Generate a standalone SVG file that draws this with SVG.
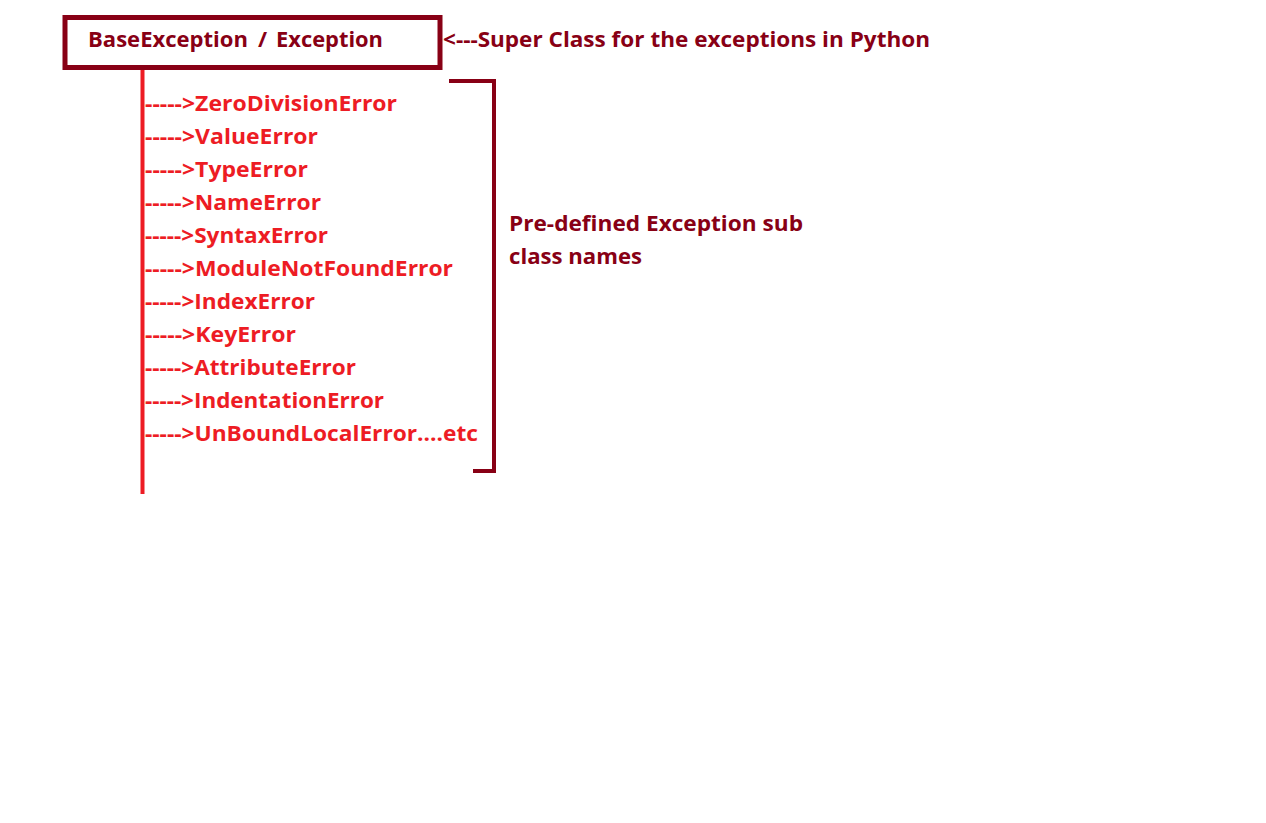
<svg xmlns="http://www.w3.org/2000/svg" width="1266" height="823" viewBox="0 0 1266 823">
<style>
.dk{fill:#880015;font-family:"Open Sans","Liberation Sans",sans-serif;font-weight:700;font-size:22px}
.rd{fill:#ED1C24;font-family:"Open Sans","Liberation Sans",sans-serif;font-weight:700;font-size:22px}
.dline{stroke:#880015;stroke-width:4;fill:none}
.rline{stroke:#ED1C24;stroke-width:4;fill:none}
</style>
<rect width="1266" height="823" fill="#ffffff"/>
<g id="connectors">
<line class="rline" x1="142.5" y1="68" x2="142.5" y2="494"/>
<path class="dline" d="M449 81 H494 V471 H473"/>
</g>
<g id="base">
<rect x="65" y="17.5" width="375" height="50" fill="none" stroke="#880015" stroke-width="5"/>
<text class="dk" y="47"><tspan x="88" textLength="160" lengthAdjust="spacingAndGlyphs">BaseException</tspan><tspan x="258">/</tspan><tspan x="276" textLength="107" lengthAdjust="spacingAndGlyphs">Exception</tspan></text>
</g>
<g id="super-label">
<text class="dk" x="443" y="47" textLength="487" lengthAdjust="spacingAndGlyphs">&lt;---Super Class for the exceptions in Python</text>
</g>
<g id="subclasses">
<text class="rd" x="145" y="111" textLength="252" lengthAdjust="spacingAndGlyphs">-----&gt;ZeroDivisionError</text>
<text class="rd" x="145" y="144" textLength="173" lengthAdjust="spacingAndGlyphs">-----&gt;ValueError</text>
<text class="rd" x="145" y="177" textLength="163" lengthAdjust="spacingAndGlyphs">-----&gt;TypeError</text>
<text class="rd" x="145" y="210" textLength="176" lengthAdjust="spacingAndGlyphs">-----&gt;NameError</text>
<text class="rd" x="145" y="243" textLength="183" lengthAdjust="spacingAndGlyphs">-----&gt;SyntaxError</text>
<text class="rd" x="145" y="276" textLength="308" lengthAdjust="spacingAndGlyphs">-----&gt;ModuleNotFoundError</text>
<text class="rd" x="145" y="309" textLength="170" lengthAdjust="spacingAndGlyphs">-----&gt;IndexError</text>
<text class="rd" x="145" y="342" textLength="151" lengthAdjust="spacingAndGlyphs">-----&gt;KeyError</text>
<text class="rd" x="145" y="375" textLength="211" lengthAdjust="spacingAndGlyphs">-----&gt;AttributeError</text>
<text class="rd" x="145" y="408" textLength="239" lengthAdjust="spacingAndGlyphs">-----&gt;IndentationError</text>
<text class="rd" x="145" y="441" textLength="333" lengthAdjust="spacingAndGlyphs">-----&gt;UnBoundLocalError....etc</text>
</g>
<g id="predefined-label">
<text class="dk" x="509" y="231" textLength="294" lengthAdjust="spacingAndGlyphs">Pre-defined Exception sub</text>
<text class="dk" x="509" y="264" textLength="133" lengthAdjust="spacingAndGlyphs">class names</text>
</g>
</svg>
